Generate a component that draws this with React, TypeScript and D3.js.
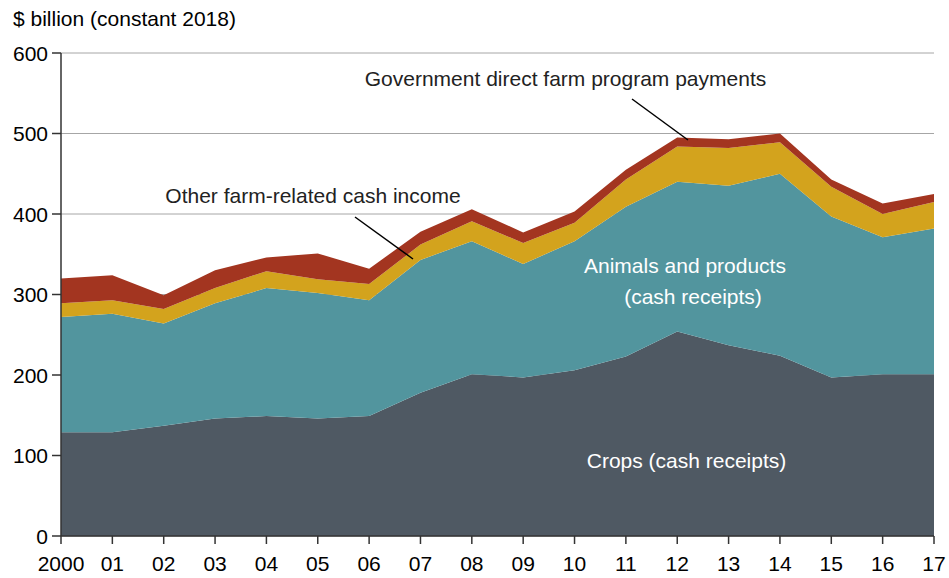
import React from "react";
import * as d3 from "d3";

const years = [2000, 2001, 2002, 2003, 2004, 2005, 2006, 2007, 2008, 2009, 2010, 2011, 2012, 2013, 2014, 2015, 2016, 2017];
const yearLabels = ["2000", "01", "02", "03", "04", "05", "06", "07", "08", "09", "10", "11", "12", "13", "14", "15", "16", "17"];
const crops = [129, 129, 137, 146, 149, 146, 149, 178, 201, 197, 206, 223, 254, 237, 224, 197, 201, 201];
const animals = [143, 147, 127, 143, 159, 156, 144, 165, 165, 141, 160, 186, 186, 198, 226, 200, 170, 181];
const other = [17, 17, 18, 19, 21, 17, 20, 19, 25, 26, 23, 34, 44, 47, 39, 37, 29, 33];
const government = [31, 31, 17, 22, 17, 32, 19, 16, 15, 13, 14, 12, 11, 11, 11, 9, 13, 10];
const yTicks = [0, 100, 200, 300, 400, 500, 600];

const seriesKeys = ["crops", "animals", "other", "government"];
const seriesColors: Record<string, string> = {
  crops: "#4f5963",
  animals: "#52959e",
  other: "#d3a31d",
  government: "#a33520",
};

const W = 949;
const H = 578;
const FONT = "'Liberation Sans', Arial, Helvetica, sans-serif";
const FS = 21;

export default function App() {
  const x = d3.scaleLinear().domain([2000, 2017]).range([61, 934]);
  const y = d3.scaleLinear().domain([0, 600]).range([536, 53]);

  const table = years.map((yr, i) => ({
    year: yr,
    crops: crops[i],
    animals: animals[i],
    other: other[i],
    government: government[i],
  }));
  const stacked = d3.stack<any>().keys(seriesKeys)(table);
  const area = d3
    .area<any>()
    .x((d) => x(d.data.year))
    .y0((d) => y(d[0]))
    .y1((d) => y(d[1]));

  return (
    <svg
      width={W}
      height={H}
      style={{ position: "absolute", left: 0, top: 0, background: "#fff" }}
      fontFamily={FONT}
    >
      <text x={13} y={26} fontSize={FS} fill="#000">$ billion (constant 2018)</text>
      {yTicks.map((t) => (
        <line key={"g" + t} x1={61} x2={934} y1={y(t)} y2={y(t)} stroke="#a6a6a6" strokeWidth={1} />
      ))}
      {stacked.map((s) => (
        <path key={s.key} d={area(s) || ""} fill={seriesColors[s.key]} />
      ))}
      {/* axes */}
      <line x1={61} x2={61} y1={53} y2={536} stroke="#333" strokeWidth={1.5} />
      <line x1={61} x2={934} y1={536} y2={536} stroke="#333" strokeWidth={1.5} />
      {yTicks.map((t) => (
        <g key={"yt" + t}>
          <line x1={52} x2={61} y1={y(t)} y2={y(t)} stroke="#333" strokeWidth={1.5} />
          <text x={48} y={y(t) + 7.5} fontSize={FS} textAnchor="end" fill="#000">{t}</text>
        </g>
      ))}
      {years.map((yr, i) => (
        <g key={"xt" + yr}>
          <line x1={x(yr)} x2={x(yr)} y1={536} y2={544} stroke="#333" strokeWidth={1.5} />
          <text x={x(yr)} y={571} fontSize={FS} textAnchor="middle" fill="#000">{yearLabels[i]}</text>
        </g>
      ))}
      {/* annotations */}
      <text x={565.5} y={86} fontSize={FS} textAnchor="middle" fill="#222">Government direct farm program payments</text>
      <line x1={632} x2={688} y1={99} y2={140} stroke="#000" strokeWidth={1.5} />
      <text x={313} y={203} fontSize={FS} textAnchor="middle" fill="#222">Other farm-related cash income</text>
      <line x1={355} x2={413} y1={217} y2={259} stroke="#000" strokeWidth={1.5} />
      <text x={685} y={273} fontSize={FS} textAnchor="middle" fill="#fff">Animals and products</text>
      <text x={693} y={304} fontSize={FS} textAnchor="middle" fill="#fff">(cash receipts)</text>
      <text x={686.5} y={468} fontSize={FS} textAnchor="middle" fill="#fff">Crops (cash receipts)</text>
    </svg>
  );
}
